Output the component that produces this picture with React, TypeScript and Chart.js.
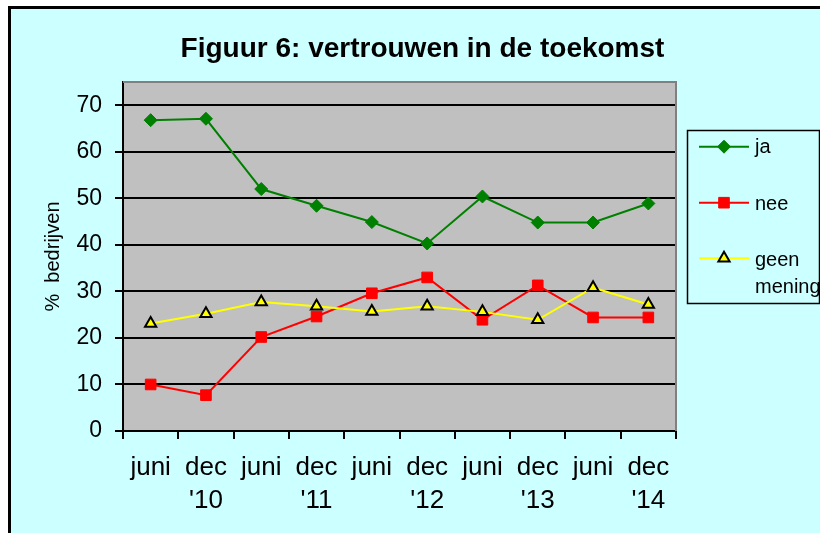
import React, { useEffect, useRef } from 'react';
import { Chart, registerables } from 'chart.js';

Chart.register(...registerables);

// ---- data ----
const periodLabels = ['juni', 'dec', 'juni', 'dec', 'juni', 'dec', 'juni', 'dec', 'juni', 'dec'];
const yearLabels = ['', "'10", '', "'11", '', "'12", '', "'13", '', "'14"];
const jaValues = [66.8, 67.1, 52.0, 48.4, 44.9, 40.3, 50.4, 44.8, 44.8, 48.9];
const neeValues = [10.0, 7.7, 20.2, 24.6, 29.6, 33.0, 23.9, 31.3, 24.4, 24.4];
const geenValues = [23.1, 25.2, 27.7, 26.8, 25.7, 26.8, 25.6, 23.9, 30.8, 27.2];
const yTicks = [0, 10, 20, 30, 40, 50, 60, 70];
const yMax = 75;
const titleText = 'Figuur 6: vertrouwen in de toekomst';
const yTitle = '%  bedrijven';
const seriesNames = ['ja', 'nee', 'geen mening'];

const FONT = "'Liberation Sans', Arial, sans-serif";
const GREEN = '#008000';
const RED = '#FF0000';
const YELLOW = '#FFFF00';

function drawMarker(ctx: CanvasRenderingContext2D, style: string, x: number, y: number, r: number, fill: string, stroke: string, bw: number) {
  ctx.save();
  ctx.beginPath();
  if (style === 'rectRot') {
    ctx.moveTo(x, y - r);
    ctx.lineTo(x + r, y);
    ctx.lineTo(x, y + r);
    ctx.lineTo(x - r, y);
    ctx.closePath();
  } else if (style === 'rect') {
    const s = r * Math.SQRT1_2;
    ctx.rect(x - s, y - s, 2 * s, 2 * s);
  } else {
    const h = r;
    ctx.moveTo(x, y - h);
    ctx.lineTo(x + Math.sin(2 * Math.PI / 3) * h, y - Math.cos(2 * Math.PI / 3) * h);
    ctx.lineTo(x + Math.sin(4 * Math.PI / 3) * h, y - Math.cos(4 * Math.PI / 3) * h);
    ctx.closePath();
  }
  ctx.fillStyle = fill;
  ctx.fill();
  ctx.lineWidth = bw;
  ctx.strokeStyle = stroke;
  ctx.stroke();
  ctx.restore();
}

const decor = {
  id: 'decor',
  beforeDraw(chart: any) {
    const { ctx, chartArea: a } = chart;
    ctx.save();
    ctx.fillStyle = '#C0C0C0';
    ctx.fillRect(a.left, a.top, a.right - a.left, a.bottom - a.top);
    ctx.restore();
  },
  afterDraw(chart: any) {
    const { ctx, chartArea: a } = chart;
    ctx.save();
    // plot frame (top / right)
    ctx.strokeStyle = '#808080';
    ctx.lineWidth = 2;
    ctx.beginPath();
    ctx.moveTo(a.left, a.top);
    ctx.lineTo(a.right, a.top);
    ctx.lineTo(a.right, a.bottom);
    ctx.stroke();

    // title
    ctx.fillStyle = '#000';
    ctx.font = `bold 28px ${FONT}`;
    ctx.textAlign = 'center';
    ctx.textBaseline = 'alphabetic';
    ctx.fillText(titleText, 411.5, 48);

    // legend box
    ctx.strokeStyle = '#000';
    ctx.lineWidth = 1.5;
    ctx.strokeRect(676.5, 121.5, 132, 173);

    const ds = chart.data.datasets;
    const rows = [
      { i: 0, ly: 137.7, tys: [144.3] },
      { i: 1, ly: 193.7, tys: [201] },
      { i: 2, ly: 249.3, tys: [256.7, 283.7] },
    ];
    ctx.font = `20px ${FONT}`;
    ctx.textAlign = 'left';
    for (const r of rows) {
      const d = ds[r.i];
      ctx.strokeStyle = d.borderColor;
      ctx.lineWidth = 2;
      ctx.beginPath();
      ctx.moveTo(688, r.ly);
      ctx.lineTo(738, r.ly);
      ctx.stroke();
      drawMarker(ctx, d.pointStyle, 713, r.ly, d.pointRadius, d.pointBackgroundColor, d.pointBorderColor, d.pointBorderWidth);
      const words = r.i === 2 ? seriesNames[2].split(' ') : [seriesNames[r.i]];
      ctx.fillStyle = '#000';
      words.forEach((w: string, k: number) => ctx.fillText(w, 744, r.tys[k]));
    }
    ctx.restore();
  },
};

export default function App() {
  const ref = useRef<HTMLCanvasElement | null>(null);

  useEffect(() => {
    if (!ref.current) return;
    const labels = periodLabels.map((p, i) => (yearLabels[i] ? [p, yearLabels[i]] : p));
    const chart = new Chart(ref.current, {
      type: 'line',
      data: {
        labels,
        datasets: [
          {
            label: seriesNames[0],
            data: jaValues,
            borderColor: GREEN,
            borderWidth: 2,
            pointStyle: 'rectRot',
            pointRadius: 6.5,
            pointBackgroundColor: GREEN,
            pointBorderColor: GREEN,
            pointBorderWidth: 1,
            tension: 0,
            order: 0,
          },
          {
            label: seriesNames[1],
            data: neeValues,
            borderColor: RED,
            borderWidth: 2,
            pointStyle: 'rect',
            pointRadius: 7.5,
            pointBackgroundColor: RED,
            pointBorderColor: RED,
            pointBorderWidth: 1,
            tension: 0,
            order: 2,
          },
          {
            label: seriesNames[2],
            data: geenValues,
            borderColor: YELLOW,
            borderWidth: 2,
            pointStyle: 'triangle',
            pointRadius: 6.5,
            pointBackgroundColor: YELLOW,
            pointBorderColor: '#000',
            pointBorderWidth: 2,
            tension: 0,
            order: 1,
          },
        ],
      },
      options: {
        responsive: false,
        animation: false,
        devicePixelRatio: 1,
        layout: { padding: { top: 73, right: 144, left: 0, bottom: 0 } },
        plugins: {
          legend: { display: false },
          title: { display: false },
          tooltip: { enabled: false },
        },
        scales: {
          x: {
            type: 'category',
            offset: true,
            grid: {
              offset: true,
              drawOnChartArea: false,
              drawTicks: true,
              tickLength: 8,
              color: '#000',
              lineWidth: 2,
            },
            border: { color: '#000', width: 2 },
            ticks: {
              color: '#000',
              font: { family: FONT, size: 26, lineHeight: 1.25 },
              padding: 13,
              maxRotation: 0,
              autoSkip: false,
            },
            afterFit: (s: any) => {
              s.height = 102;
            },
          },
          y: {
            min: 0,
            max: yMax,
            grid: {
              color: '#000',
              lineWidth: 2,
              tickLength: 8,
              drawTicks: true,
            },
            border: { color: '#000', width: 2 },
            ticks: {
              stepSize: 10,
              color: '#000',
              font: { family: FONT, size: 23 },
              padding: 13,
            },
            afterBuildTicks: (s: any) => {
              s.ticks = yTicks.map((v) => ({ value: v }));
            },
            afterFit: (s: any) => {
              s.width = 112;
            },
            title: {
              display: true,
              text: yTitle,
              color: '#000',
              font: { family: FONT, size: 20 },
              padding: { top: 30, bottom: 0 },
            },
          },
        },
      },
      plugins: [decor],
    });
    return () => chart.destroy();
  }, []);

  return (
    <div
      style={{
        position: 'absolute',
        left: 8,
        top: 6,
        width: 809,
        height: 524,
        borderLeft: '3px solid #000',
        borderTop: '3px solid #000',
        background: '#CCFFFF',
        overflow: 'hidden',
      }}
    >
      <canvas ref={ref} width={809} height={524} style={{ display: 'block', width: 809, height: 524 }} />
    </div>
  );
}
